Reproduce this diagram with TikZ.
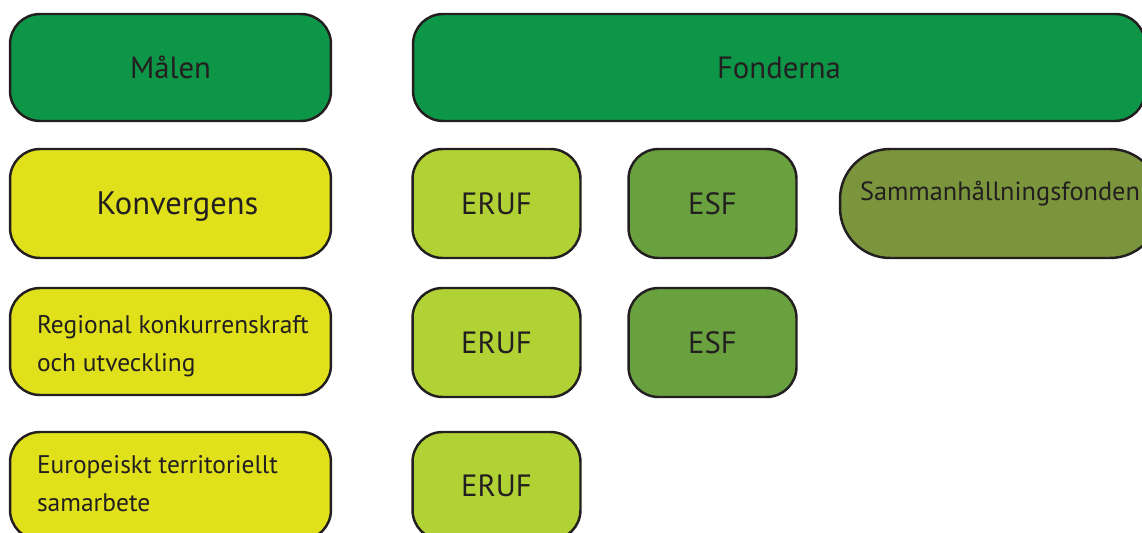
\documentclass[tikz,border=0pt]{standalone}
\usepackage{fontspec}
\setmainfont{PT Sans}

\definecolor{edge}{RGB}{35,31,32}
\definecolor{topgreen}{RGB}{14,150,72}
\definecolor{goalyellow}{RGB}{224,225,27}
\definecolor{erufgreen}{RGB}{177,210,52}
\definecolor{esfgreen}{RGB}{106,161,63}
\definecolor{samgreen}{RGB}{122,149,59}

\tikzset{
    box/.style = {draw = edge, line width = 1.4pt, rounded corners = 0.6cm,
        text = edge, inner sep = 0pt},
    head/.style = {box, fill = topgreen, minimum height = 2.14cm,
        font = \fontsize{17.5}{20}\selectfont},
    goal/.style = {box, fill = goalyellow, minimum width = 6.42cm,
        minimum height = 2.18cm, font = \fontsize{18.5}{20}\selectfont},
    goaltext/.style = {anchor = west, align = left, text = edge,
        font = \fontsize{14.5}{21.6}\selectfont},
    fund/.style = {box, minimum width = 3.36cm, minimum height = 2.18cm,
        font = \fontsize{17.5}{20}\selectfont},
    eruf/.style = {fund, fill = erufgreen},
    esf/.style = {fund, fill = esfgreen}
}

\begin{document}
\begin{tikzpicture}[x = 0.02cm, y = -0.02cm]
    \clip (0, 0) rectangle (1142, 533);

    % top row
    \node [head, minimum width = 6.42cm] (malen) at (170.5, 67.5) {Målen};
    \node [head, minimum width = 14.64cm] (fonderna) at (779, 67.5) {Fonderna};

    % konvergens
    \node [goal, label = {[name = konvtext, text = edge, xshift = 0.14cm, yshift = -0.07cm,
            font = \fontsize{18.5}{20}\selectfont]center:Konvergens}]
        (konv) at (170.5, 203.5) {};
    \node [eruf] (erufa) at (496.5, 203.5) {ERUF};
    \node [esf] (esfa) at (712.5, 203.5) {ESF};
    \node [box, fill = samgreen, minimum width = 6.4cm, minimum height = 2.18cm,
        rounded corners = 1cm,
        label = {[name = samtext, text = edge, yshift = 0.2cm,
            font = \fontsize{15}{18}\selectfont]center:Sammanhållningsfonden}]
        (sam) at (1000, 203.5) {};

    % regional konkurrenskraft
    \node [goal, minimum height = 2.14cm,
        label = {[goaltext, name = regtext, xshift = 0.44cm, yshift = -0.1cm]west:Regional konkurrenskraft\\och utveckling}]
        (reg) at (170.5, 341.5) {};
    \node [eruf] (erufb) at (496.5, 342.5) {ERUF};
    \node [esf] (esfb) at (712.5, 342.5) {ESF};

    % territoriellt samarbete
    \node [goal, minimum height = 2.16cm,
        label = {[goaltext, name = euttext, xshift = 0.44cm, yshift = 0.05cm]west:Europeiskt territoriellt\\samarbete}]
        (eut) at (170.5, 486) {};
    \node [eruf, minimum height = 2.16cm] (erufc) at (496.5, 486) {ERUF};
\end{tikzpicture}
\end{document}
